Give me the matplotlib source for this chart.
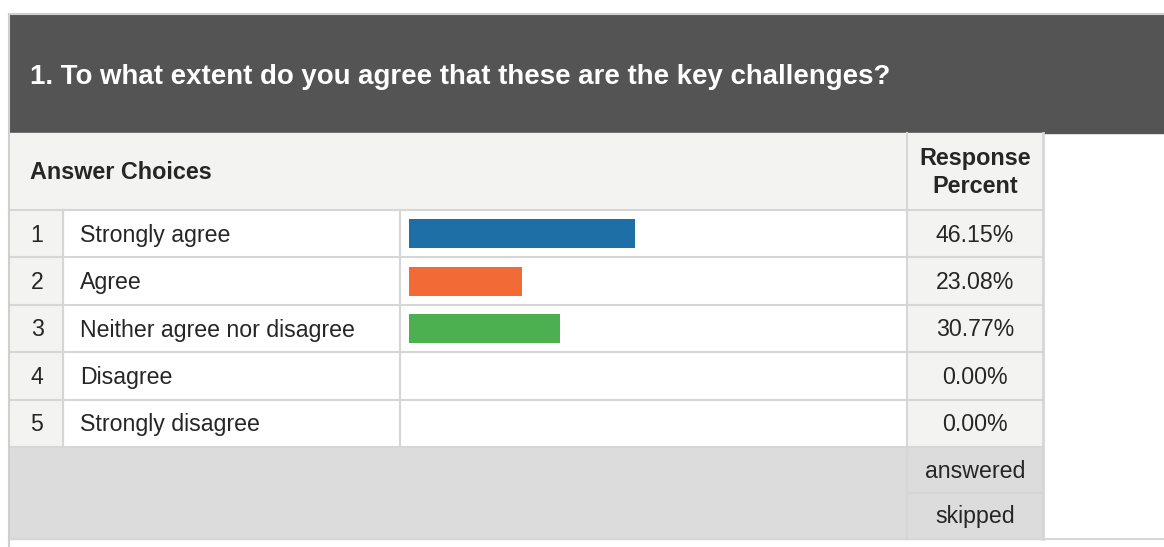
import matplotlib.pyplot as plt
from matplotlib.patches import Rectangle

plt.rcParams['font.family'] = ['Liberation Sans', 'DejaVu Sans']

# survey data
title = "1. To what extent do you agree that these are the key challenges?"
numbers = ["1", "2", "3", "4", "5"]
choices = ["Strongly agree", "Agree", "Neither agree nor disagree", "Disagree", "Strongly disagree"]
percents = [46.15, 23.08, 30.77, 0.00, 0.00]
bar_colors = ["#1e6fa5", "#f26a35", "#4caf50", "#999999", "#999999"]
footer_labels = ["answered", "skipped"]

W, H = 1164, 547
fig = plt.figure(figsize=(W / 100, H / 100), dpi=100)
ax = fig.add_axes([0, 0, 1, 1])
ax.set_xlim(0, W)
ax.set_ylim(H, 0)
ax.axis('off')

line_c = "#d6d6d6"
light = "#f3f3f2"
txt_c = "#262626"
body_fs = 16.7
head_fs = 16.8

# layout in pixels
x_left, x_num, x_lab, x_pct, x_right = 9, 63, 400, 907, 1043
y_top, y_head, y_rows, row_h = 14, 133, 210, 47.4
y_foot = y_rows + row_h * len(choices)
foot_h = 46
y_bottom = y_foot + foot_h * len(footer_labels)

# dark title band
ax.add_patch(Rectangle((x_left, y_top), W - x_left, y_head - y_top, color="#535453", zorder=1))
ax.text(30, (y_top + y_head) / 2 + 3, title, color="white", fontsize=19.9, fontweight="bold",
        va="center", ha="left", zorder=3)

# header row
ax.add_patch(Rectangle((x_left, y_head), x_right - x_left, y_rows - y_head, color=light, zorder=1))
ax.text(30, (y_head + y_rows) / 2 + 1, "Answer Choices", fontsize=head_fs, fontweight="bold",
        va="center", ha="left", color=txt_c, zorder=3)
ax.text((x_pct + x_right) / 2, (y_head + y_rows) / 2 + 1, "Response\nPercent", fontsize=head_fs,
        fontweight="bold", va="center", ha="center", color=txt_c, linespacing=1.28, zorder=3)

# body rows
for i, (n, c, p) in enumerate(zip(numbers, choices, percents)):
    y0 = y_rows + i * row_h
    yc = y0 + row_h / 2 + 1.5
    ax.add_patch(Rectangle((x_left, y0), x_num - x_left, row_h, color=light, zorder=1))
    ax.add_patch(Rectangle((x_pct, y0), x_right - x_pct, row_h, color=light, zorder=1))
    ax.text((x_left + x_num) / 2 + 1, yc, n, fontsize=body_fs, va="center", ha="center", color=txt_c, zorder=3)
    ax.text(80, yc, c, fontsize=body_fs, va="center", ha="left", color=txt_c, zorder=3)
    ax.text((x_pct + x_right) / 2, yc, f"{p:.2f}%", fontsize=body_fs, va="center", ha="center",
            color=txt_c, zorder=3)

# footer
ax.add_patch(Rectangle((x_left, y_foot), x_right - x_left, y_bottom - y_foot, color="#dcdcdc", zorder=1))
for j, lab in enumerate(footer_labels):
    yc = y_foot + j * foot_h + foot_h / 2 + 1
    ax.text((x_pct + x_right) / 2, yc, lab, fontsize=body_fs, va="center", ha="center", color=txt_c, zorder=3)

# grid lines
lw = 1.5
for k in range(len(choices) + 1):
    y = y_rows + k * row_h
    ax.plot([x_left, x_right], [y, y], color=line_c, lw=lw, zorder=2)
ax.plot([x_pct, x_right], [y_foot + foot_h] * 2, color=line_c, lw=lw, zorder=2)
ax.plot([x_left, W], [y_bottom, y_bottom], color=line_c, lw=lw, zorder=2)
ax.plot([x_left, W], [y_top, y_top], color="#cfcfcf", lw=lw, zorder=2)
ax.plot([x_left, x_left], [y_top, H], color="#cfcfcf", lw=lw, zorder=2)
for x in (x_num, x_lab):
    ax.plot([x, x], [y_rows, y_foot], color=line_c, lw=lw, zorder=2)
ax.plot([x_pct, x_pct], [y_head, y_bottom], color=line_c, lw=lw, zorder=2)
ax.plot([x_right, x_right], [y_head, y_bottom], color=line_c, lw=lw + 0.5, zorder=2)

# bar axes: 0-100% spans the bar column
bx0, bx1 = 409, 899
bax = fig.add_axes([bx0 / W, 1 - y_foot / H, (bx1 - bx0) / W, (y_foot - y_rows) / H])
bax.set_xlim(0, 100)
bax.set_ylim(len(choices) - 0.5, -0.5)
bax.axis('off')
bax.patch.set_alpha(0)
bax.barh(range(len(choices)), percents, height=0.61, color=bar_colors)

fig.savefig("out.png", dpi=100)
